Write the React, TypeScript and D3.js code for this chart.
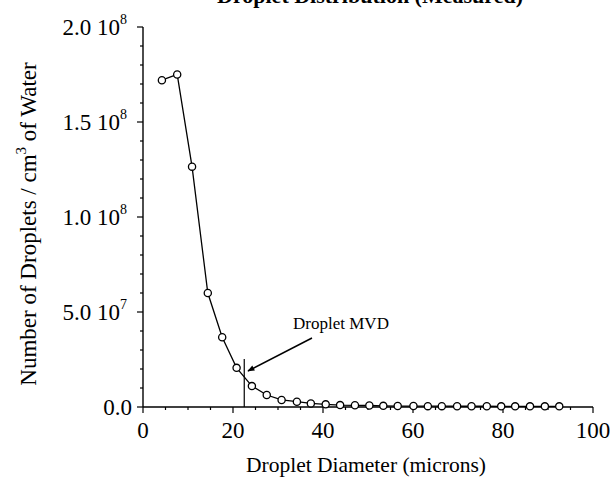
import React from 'react'
import * as d3 from 'd3'

// droplet diameter (microns) and number concentration (droplets / cm^3 of water)
const diameters = [4.2, 7.6, 10.9, 14.4, 17.6, 20.8, 24.2, 27.5, 30.8, 34.2, 37.3, 40.6, 43.8, 47.1,
  50.3, 53.4, 56.6, 60.1, 63.3, 66.4, 69.8, 73.0, 76.4, 79.6, 82.7, 86.0, 89.3, 92.5]
const counts = [1.72e8, 1.75e8, 1.265e8, 6.0e7, 3.67e7, 2.06e7, 1.1e7, 6.3e6, 3.7e6, 2.8e6, 1.9e6, 1.4e6, 1.0e6, 0.9e6,
  0.8e6, 0.6e6, 0.5e6, 0.5e6, 0.45e6, 0.45e6, 0.4e6, 0.4e6, 0.4e6, 0.35e6, 0.35e6, 0.35e6, 0.35e6, 0.35e6]

const xTicks = [0, 20, 40, 60, 80, 100]
const yTicks = [0, 5e7, 1e8, 1.5e8, 2e8]
const yTickMant = ['0.0', '5.0 10', '1.0 10', '1.5 10', '2.0 10']
const yTickExp = ['', '7', '8', '8', '8']

const mvd = 22.5
const mvdTop = 2.52e7

const font = '"Liberation Serif", "Times New Roman", serif'

export default function App() {
  const width = 615, height = 477
  const x = d3.scaleLinear().domain([0, 100]).range([143, 593])
  const y = d3.scaleLinear().domain([0, 2e8]).range([407, 27])

  const pts = diameters.map((d, i) => [d, counts[i]] as [number, number])
  const line = d3.line<[number, number]>().x(d => x(d[0])).y(d => y(d[1]))

  const xMinor = d3.range(0, 101, 5)
  const yMinor = d3.range(0, 2e8 + 1, 1e7)

  return (
    <svg width={width} height={height} style={{ position: 'absolute', left: 0, top: 0, background: '#fff' }}
      fontFamily={font}>
      <defs>
        <marker id="arr" viewBox="0 0 10 10" refX="9" refY="5" markerWidth="10" markerHeight="7" orient="auto"
          markerUnits="userSpaceOnUse">
          <path d="M0,1 L10,5 L0,9 Z" fill="#000" />
        </marker>
      </defs>

      <text x={370} y={3} textAnchor="middle" fontSize={22} fontWeight="bold">Droplet Distribution (Measured)</text>

      {/* y axis */}
      <line x1={x(0)} x2={x(0)} y1={y(0)} y2={y(2e8)} stroke="#000" strokeWidth={1.4} />
      {yMinor.map(v => {
        const major = Math.round(v / 1e7) % 5 === 0
        return <line key={'ym' + v} x1={x(0) - (major ? 6 : 3)} x2={x(0)} y1={y(v)} y2={y(v)} stroke="#000" strokeWidth={1.2} />
      })}
      {yTicks.map((v, i) => (
        <text key={'yt' + v} x={yTickExp[i] ? 127 : 132} y={y(v) + 8} textAnchor="end" fontSize={23}>
          {yTickMant[i]}
          {yTickExp[i] && <tspan dy={-11} fontSize={14}>{yTickExp[i]}</tspan>}
        </text>
      ))}

      {/* x axis */}
      <line x1={x(0)} x2={x(100)} y1={y(0)} y2={y(0)} stroke="#000" strokeWidth={1.4} />
      {xMinor.map(v => {
        const major = v % 20 === 0
        return <line key={'xm' + v} x1={x(v)} x2={x(v)} y1={y(0)} y2={y(0) + (major ? 6 : 3)} stroke="#000" strokeWidth={1.2} />
      })}
      {xTicks.map(v => (
        <text key={'xt' + v} x={x(v)} y={438} textAnchor="middle" fontSize={23}>{v}</text>
      ))}

      <text x={366} y={472} textAnchor="middle" fontSize={21.5}>Droplet Diameter (microns)</text>
      <text transform="translate(36,224) rotate(-90)" textAnchor="middle" fontSize={23}>
        Number of Droplets / cm<tspan dy={-10} fontSize={15}>3</tspan><tspan dy={10}> of Water</tspan>
      </text>

      {/* MVD marker */}
      <line x1={x(mvd)} x2={x(mvd)} y1={y(0)} y2={y(mvdTop)} stroke="#000" strokeWidth={1.2} />
      <line x1={312} y1={338} x2={248} y2={371} stroke="#000" strokeWidth={1.5} markerEnd="url(#arr)" />
      <text x={341} y={329} textAnchor="middle" fontSize={17}>Droplet MVD</text>

      {/* series */}
      <path d={line(pts) || ''} fill="none" stroke="#000" strokeWidth={1.3} />
      {pts.map((p, i) => (
        <circle key={i} cx={x(p[0])} cy={y(p[1])} r={3.6} fill="#fff" stroke="#000" strokeWidth={1.3} />
      ))}
    </svg>
  )
}
